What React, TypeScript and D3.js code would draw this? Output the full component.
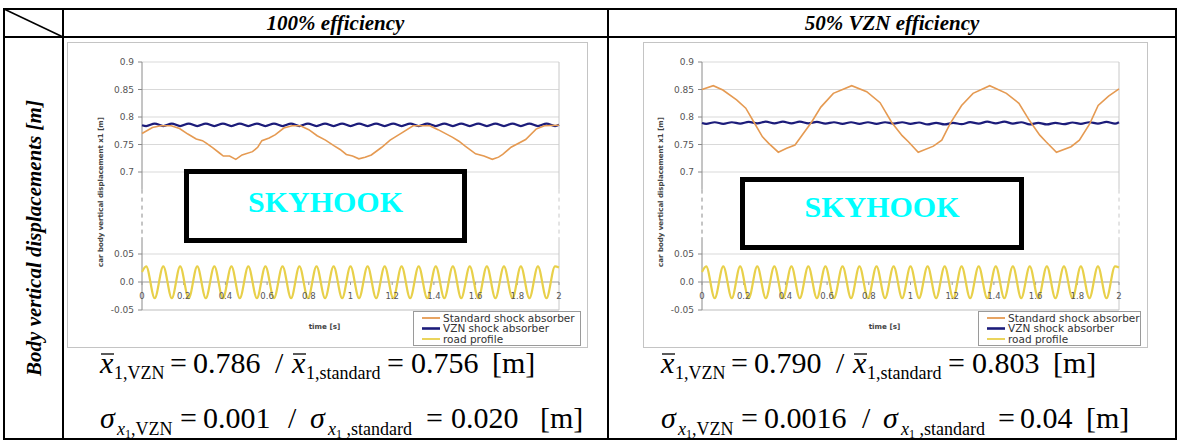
import * as d3 from "d3";

// table texts
const headers = ["100% efficiency", "50% VZN efficiency"];
const rowLabel = "Body vertical displacements [m]";
const yTitle = "car body vertical displacement x1 [m]";
const xTitle = "time [s]";
const boxLabel = "SKYHOOK";

// legend
const seriesNames = ["Standard shock absorber", "VZN shock absorber", "road profile"];
const seriesColors = ["#e59a52", "#1c1c7a", "#e8d04a"];

// axes
const xTicks = [0, 0.2, 0.4, 0.6, 0.8, 1, 1.2, 1.4, 1.6, 1.8, 2];
const xTickLabels = ["0", "0.2", "0.4", "0.6", "0.8", "1", "1.2", "1.4", "1.6", "1.8", "2"];
const yTopTicks = [0.7, 0.75, 0.8, 0.85, 0.9];
const yTopLabels = ["0.7", "0.75", "0.8", "0.85", "0.9"];
const yBotTicks = [-0.05, 0, 0.05];
const yBotLabels = ["-0.05", "0.0", "0.05"];

// road profile and VZN response, read at the road's peaks / troughs
const roadT = [0, 0.02, 0.061, 0.102, 0.143, 0.183, 0.224, 0.265, 0.306, 0.347, 0.388, 0.429, 0.469, 0.51, 0.551,
  0.592, 0.633, 0.674, 0.715, 0.755, 0.796, 0.837, 0.878, 0.919, 0.96, 1.0, 1.041, 1.082, 1.123, 1.164, 1.205,
  1.245, 1.286, 1.327, 1.368, 1.409, 1.45, 1.491, 1.531, 1.572, 1.613, 1.654, 1.695, 1.736, 1.777, 1.817, 1.858,
  1.899, 1.94, 1.981, 2.0];
const road = [0.018, 0.028, -0.029, 0.028, -0.029, 0.028, -0.029, 0.028, -0.029, 0.028, -0.029, 0.028, -0.029,
  0.028, -0.029, 0.028, -0.029, 0.028, -0.029, 0.028, -0.029, 0.028, -0.029, 0.028, -0.029, 0.028, -0.029,
  0.028, -0.029, 0.028, -0.029, 0.028, -0.029, 0.028, -0.029, 0.028, -0.029, 0.028, -0.029, 0.028, -0.029,
  0.028, -0.029, 0.028, -0.029, 0.028, -0.029, 0.028, -0.029, 0.028, 0.026];
const vzn100 = [0.785, 0.7835, 0.788, 0.7835, 0.788, 0.7835, 0.788, 0.7835, 0.788, 0.7835, 0.788, 0.7835, 0.788,
  0.7835, 0.788, 0.7835, 0.788, 0.7835, 0.788, 0.7835, 0.788, 0.7835, 0.788, 0.7835, 0.788, 0.7835, 0.788,
  0.7835, 0.788, 0.7835, 0.788, 0.7835, 0.788, 0.7835, 0.788, 0.7835, 0.788, 0.7835, 0.788, 0.7835, 0.788,
  0.7835, 0.788, 0.7835, 0.788, 0.7835, 0.788, 0.7835, 0.788, 0.7835, 0.786];
const vzn50 = [0.789, 0.7875, 0.7905, 0.7875, 0.7905, 0.788, 0.791, 0.7885, 0.7915, 0.7885, 0.7915, 0.7885, 0.7915,
  0.7885, 0.791, 0.788, 0.7905, 0.7875, 0.7905, 0.7875, 0.7905, 0.7875, 0.7905, 0.788, 0.7905, 0.7875, 0.79,
  0.7865, 0.7895, 0.7865, 0.7895, 0.787, 0.7905, 0.788, 0.7915, 0.7885, 0.7915, 0.788, 0.7905, 0.7865, 0.7895,
  0.7865, 0.7895, 0.787, 0.79, 0.7875, 0.7905, 0.788, 0.791, 0.788, 0.7905];

// standard shock absorber, 100% efficiency
const std100T = [0, 0.05, 0.09, 0.14, 0.18, 0.22, 0.26, 0.29, 0.31, 0.34, 0.37, 0.39, 0.42, 0.45, 0.48, 0.53,
  0.555, 0.575, 0.61, 0.64, 0.68, 0.72, 0.76, 0.8, 0.84, 0.88, 0.92, 0.95, 0.98, 1.01, 1.04, 1.07, 1.1, 1.15,
  1.19, 1.25, 1.3, 1.38, 1.42, 1.49, 1.52, 1.55, 1.6, 1.64, 1.68, 1.71, 1.73, 1.77, 1.84, 1.89, 1.93, 2.0];
const std100 = [0.770, 0.781, 0.784, 0.784, 0.779, 0.769, 0.760, 0.757, 0.752, 0.744, 0.735, 0.729, 0.729, 0.723,
  0.731, 0.737, 0.745, 0.757, 0.762, 0.768, 0.780, 0.784, 0.784, 0.777, 0.766, 0.758, 0.748, 0.741, 0.732,
  0.729, 0.724, 0.727, 0.731, 0.745, 0.758, 0.772, 0.784, 0.784, 0.777, 0.763, 0.756, 0.747, 0.733, 0.729,
  0.723, 0.727, 0.732, 0.745, 0.759, 0.778, 0.784, 0.785];

// standard shock absorber, 50% VZN efficiency
const std50T = [0, 0.054, 0.1, 0.166, 0.21, 0.25, 0.29, 0.32, 0.366, 0.406, 0.446, 0.486, 0.526, 0.57, 0.63,
  0.718, 0.79, 0.854, 0.91, 0.96, 0.99, 1.037, 1.11, 1.15, 1.19, 1.245, 1.3, 1.38, 1.46, 1.52, 1.57, 1.62, 1.65,
  1.7, 1.77, 1.81, 1.86, 1.9, 1.95, 2.0];
const std50 = [0.850, 0.857, 0.849, 0.831, 0.816, 0.790, 0.764, 0.752, 0.736, 0.743, 0.749, 0.770, 0.791, 0.818,
  0.843, 0.857, 0.846, 0.826, 0.790, 0.766, 0.755, 0.736, 0.747, 0.758, 0.788, 0.821, 0.843, 0.857, 0.843,
  0.825, 0.794, 0.767, 0.755, 0.736, 0.746, 0.758, 0.788, 0.821, 0.838, 0.851];

// statistics under each chart
const meanVzn = ["0.786", "0.790"];
const meanStd = ["0.756", "0.803"];
const sdVzn = ["0.001", "0.0016"];
const sdStd = ["0.020", "0.04"];

const stdT = [std100T, std50T];
const stdV = [std100, std50];
const vznV = [vzn100, vzn50];

// layout of the two cells
const panels = [
  { frame: [67, 42, 587, 347], plot: [142, 559], box: [184, 169, 467, 243], skyY: 212, legendX: 413, fx: 100,
    row2: [0, 17, 80, 103, 188, 210, 228, 326, 351, 440] },
  { frame: [643, 42, 1147, 347], plot: [702, 1119], box: [740, 177, 1024, 250], skyY: 217, legendX: 978, fx: 661,
    row2: [0, 17, 80, 103, 201, 222, 240, 337, 359, 425] },
];

const SANS = "DejaVu Sans, Verdana, sans-serif";
const SERIF = "Liberation Serif, Times New Roman, serif";

function Chart({ i }: { i: number }) {
  const p = panels[i];
  const [fx0, fy0, fx1, fy1] = p.frame;
  const x = d3.scaleLinear().domain([0, 2]).range(p.plot);
  const yTop = d3.scaleLinear().domain([0.7, 0.9]).range([172, 62]);
  const yBot = d3.scaleLinear().domain([-0.05, 0.05]).range([310, 254]);
  const top = d3.line<number>().x((_, k) => x(stdT[i][k])).y((d) => yTop(d));
  const vz = d3.line<number>().x((_, k) => x(roadT[k])).y((d) => yTop(d)).curve(d3.curveMonotoneX);
  const rd = d3.line<number>().x((_, k) => x(roadT[k])).y((d) => yBot(d)).curve(d3.curveMonotoneX);
  const [px0, px1] = p.plot;
  const breakA = yTop(0.668);
  const breakB = yBot(0.08);
  const [bx0, by0, bx1, by1] = p.box;
  const lx = p.legendX;
  const lw = fx1 - 7 - lx;
  const ly = 311;

  return (
    <g>
      <rect x={fx0 + 0.5} y={fy0 + 0.5} width={fx1 - fx0} height={fy1 - fy0} fill="#fff" stroke="#c4c4c4" />
      {/* grid */}
      {yTopTicks.map((t) => (
        <line key={"g" + t} x1={px0} x2={px1} y1={yTop(t)} y2={yTop(t)} stroke="#d9d9d9" />
      ))}
      <line x1={px0} x2={px1} y1={yBot(0.05)} y2={yBot(0.05)} stroke="#d9d9d9" />
      <line x1={px0} x2={px1} y1={yBot(-0.05)} y2={yBot(-0.05)} stroke="#bdbdbd" />
      {/* plot border (right) with break */}
      <line x1={px1} x2={px1} y1={62} y2={breakA} stroke="#c8c8c8" />
      <line x1={px1} x2={px1} y1={breakA} y2={breakB} stroke="#c8c8c8" strokeDasharray="4,4" />
      <line x1={px1} x2={px1} y1={breakB} y2={310} stroke="#c8c8c8" />
      {/* y axis with break */}
      <line x1={px0} x2={px0} y1={62} y2={breakA} stroke="#8a8a8a" />
      <line x1={px0} x2={px0} y1={breakA} y2={breakB} stroke="#8a8a8a" strokeDasharray="4,4" />
      <line x1={px0} x2={px0} y1={breakB} y2={310} stroke="#8a8a8a" />
      {yTopTicks.map((t, k) => (
        <g key={"yt" + t}>
          <line x1={px0 - 4} x2={px0} y1={yTop(t)} y2={yTop(t)} stroke="#8a8a8a" />
          <text x={px0 - 8} y={yTop(t) + 3} textAnchor="end" fontSize={9} fill="#555" fontFamily={SANS}>
            {yTopLabels[k]}
          </text>
        </g>
      ))}
      {yBotTicks.map((t, k) => (
        <g key={"yb" + t}>
          <line x1={px0 - 4} x2={px0} y1={yBot(t)} y2={yBot(t)} stroke="#8a8a8a" />
          <text x={px0 - 8} y={yBot(t) + 3} textAnchor="end" fontSize={9} fill="#555" fontFamily={SANS}>
            {yBotLabels[k]}
          </text>
        </g>
      ))}
      <text transform={`translate(${px0 - 39},${(62 + 310) / 2 + 6}) rotate(-90)`} textAnchor="middle"
        fontSize={7} fontWeight="bold" fill="#444" fontFamily={SANS}>{yTitle}</text>
      {/* x axis at 0 */}
      <line x1={px0} x2={px1} y1={yBot(0)} y2={yBot(0)} stroke="#9a9a9a" />
      {xTicks.map((t) => (
        <line key={"xt" + t} x1={x(t)} x2={x(t)} y1={yBot(0)} y2={yBot(0) + 3} stroke="#9a9a9a" />
      ))}
      {/* series */}
      <path d={rd(road) ?? ""} fill="none" stroke={seriesColors[2]} strokeWidth={2.2} />
      {xTicks.map((t, k) => (
        <text key={"xl" + t} x={x(t)} y={yBot(0) + 17} textAnchor="middle" fontSize={8.5} fill="#555"
          fontFamily={SANS}>{xTickLabels[k]}</text>
      ))}
      <path d={vz(vznV[i]) ?? ""} fill="none" stroke={seriesColors[1]} strokeWidth={2.2} />
      <path d={top(stdV[i]) ?? ""} fill="none" stroke={seriesColors[0]} strokeWidth={1.6} />
      <text x={(px0 + px1) / 2 - 26} y={329} textAnchor="middle" fontSize={7.2} fontWeight="bold" fill="#444"
        fontFamily={SANS}>{xTitle}</text>
      {/* legend */}
      <rect x={lx + 0.5} y={ly + 0.5} width={lw} height={fy1 - ly - 2} fill="#fff" stroke="#9a9a9a" />
      {seriesNames.map((n, k) => (
        <g key={n}>
          <line x1={lx + 9} x2={lx + 27} y1={ly + 7 + k * 10.5} y2={ly + 7 + k * 10.5} stroke={seriesColors[k]}
            strokeWidth={k === 1 ? 2.6 : 1.8} />
          <text x={lx + 30} y={ly + 10.5 + k * 10.5} fontSize={10.5} fill="#333" fontFamily={SANS}>{n}</text>
        </g>
      ))}
      {/* SKYHOOK box */}
      <rect x={bx0 + 2.5} y={by0 + 2.5} width={bx1 - bx0 - 5} height={by1 - by0 - 5} fill="#fff" stroke="#000"
        strokeWidth={5} />
      <text x={(bx0 + bx1) / 2} y={p.skyY} textAnchor="middle" fontSize={30} fontWeight="bold" fill="#00ffff"
        fontFamily={SERIF}>{boxLabel}</text>
    </g>
  );
}

function Stats({ i }: { i: number }) {
  const p = panels[i];
  const fx = p.fx;
  const b1 = 373;
  const b2 = 428;
  const fs = 30;
  const ss = 18;
  const r = p.row2;
  return (
    <g fontFamily={SERIF} fill="#000">
      {/* row 1: mean values */}
      <text x={fx} y={b1} fontSize={fs} fontStyle="italic">x</text>
      <line x1={fx + 1} x2={fx + 14} y1={b1 - 19} y2={b1 - 19} stroke="#000" strokeWidth={1.3} />
      <text x={fx + 14} y={b1 + 6} fontSize={ss}>1,VZN</text>
      <text x={fx + 70} y={b1} fontSize={fs}>=</text>
      <text x={fx + 93} y={b1} fontSize={fs}>{meanVzn[i]}</text>
      <text x={fx + 175} y={b1} fontSize={fs}>/</text>
      <text x={fx + 192} y={b1} fontSize={fs} fontStyle="italic">x</text>
      <line x1={fx + 193} x2={fx + 206} y1={b1 - 19} y2={b1 - 19} stroke="#000" strokeWidth={1.3} />
      <text x={fx + 206} y={b1 + 6} fontSize={ss}>1,standard</text>
      <text x={fx + 287} y={b1} fontSize={fs}>=</text>
      <text x={fx + 311} y={b1} fontSize={fs}>{meanStd[i]}</text>
      <text x={fx + 392} y={b1} fontSize={fs}>[m]</text>
      {/* row 2: standard deviations */}
      <text x={fx + r[0]} y={b2} fontSize={fs} fontStyle="italic">σ</text>
      <text x={fx + r[1]} y={b2 + 7} fontSize={ss}>
        <tspan fontStyle="italic">x</tspan>
        <tspan fontSize={12} dy={3}>1</tspan>
        <tspan dy={-3}>,VZN</tspan>
      </text>
      <text x={fx + r[2]} y={b2} fontSize={fs}>=</text>
      <text x={fx + r[3]} y={b2} fontSize={fs}>{sdVzn[i]}</text>
      <text x={fx + r[4]} y={b2} fontSize={fs}>/</text>
      <text x={fx + r[5]} y={b2} fontSize={fs} fontStyle="italic">σ</text>
      <text x={fx + r[6]} y={b2 + 7} fontSize={ss}>
        <tspan fontStyle="italic">x</tspan>
        <tspan fontSize={12} dy={3}>1</tspan>
        <tspan dy={-3}> ,standard</tspan>
      </text>
      <text x={fx + r[7]} y={b2} fontSize={fs}>=</text>
      <text x={fx + r[8]} y={b2} fontSize={fs}>{sdStd[i]}</text>
      <text x={fx + r[9]} y={b2} fontSize={fs}>[m]</text>
    </g>
  );
}

export default function App() {
  const L = 4, R = 1176, T = 9, HB = 37, B = 439, C1 = 63, C2 = 608;
  return (
    <svg width={1179} height={441} style={{ position: "absolute", left: 0, top: 0, background: "#fff" }}>
      <rect width={1179} height={441} fill="#fff" />
      {[0, 1].map((i) => (
        <Chart key={"c" + i} i={i} />
      ))}
      {[0, 1].map((i) => (
        <Stats key={"s" + i} i={i} />
      ))}
      {/* table */}
      <g stroke="#000" strokeWidth={2} fill="none">
        <rect x={L} y={T} width={R - L} height={B - T} />
        <line x1={L} x2={R} y1={HB} y2={HB} />
        <line x1={C1} x2={C1} y1={T} y2={B} />
        <line x1={C2} x2={C2} y1={T} y2={B} />
        <line x1={L} x2={C1} y1={T} y2={HB} strokeWidth={1.5} />
      </g>
      <text x={(C1 + C2) / 2} y={30} textAnchor="middle" fontSize={21} fontWeight="bold" fontStyle="italic"
        fontFamily={SERIF}>{headers[0]}</text>
      <text x={(C2 + R) / 2} y={30} textAnchor="middle" fontSize={21} fontWeight="bold" fontStyle="italic"
        fontFamily={SERIF}>{headers[1]}</text>
      <text transform={`translate(${(L + C1) / 2 + 7},${(HB + B) / 2}) rotate(-90)`} textAnchor="middle"
        fontSize={21} fontWeight="bold" fontStyle="italic" fontFamily={SERIF}>{rowLabel}</text>
    </svg>
  );
}
